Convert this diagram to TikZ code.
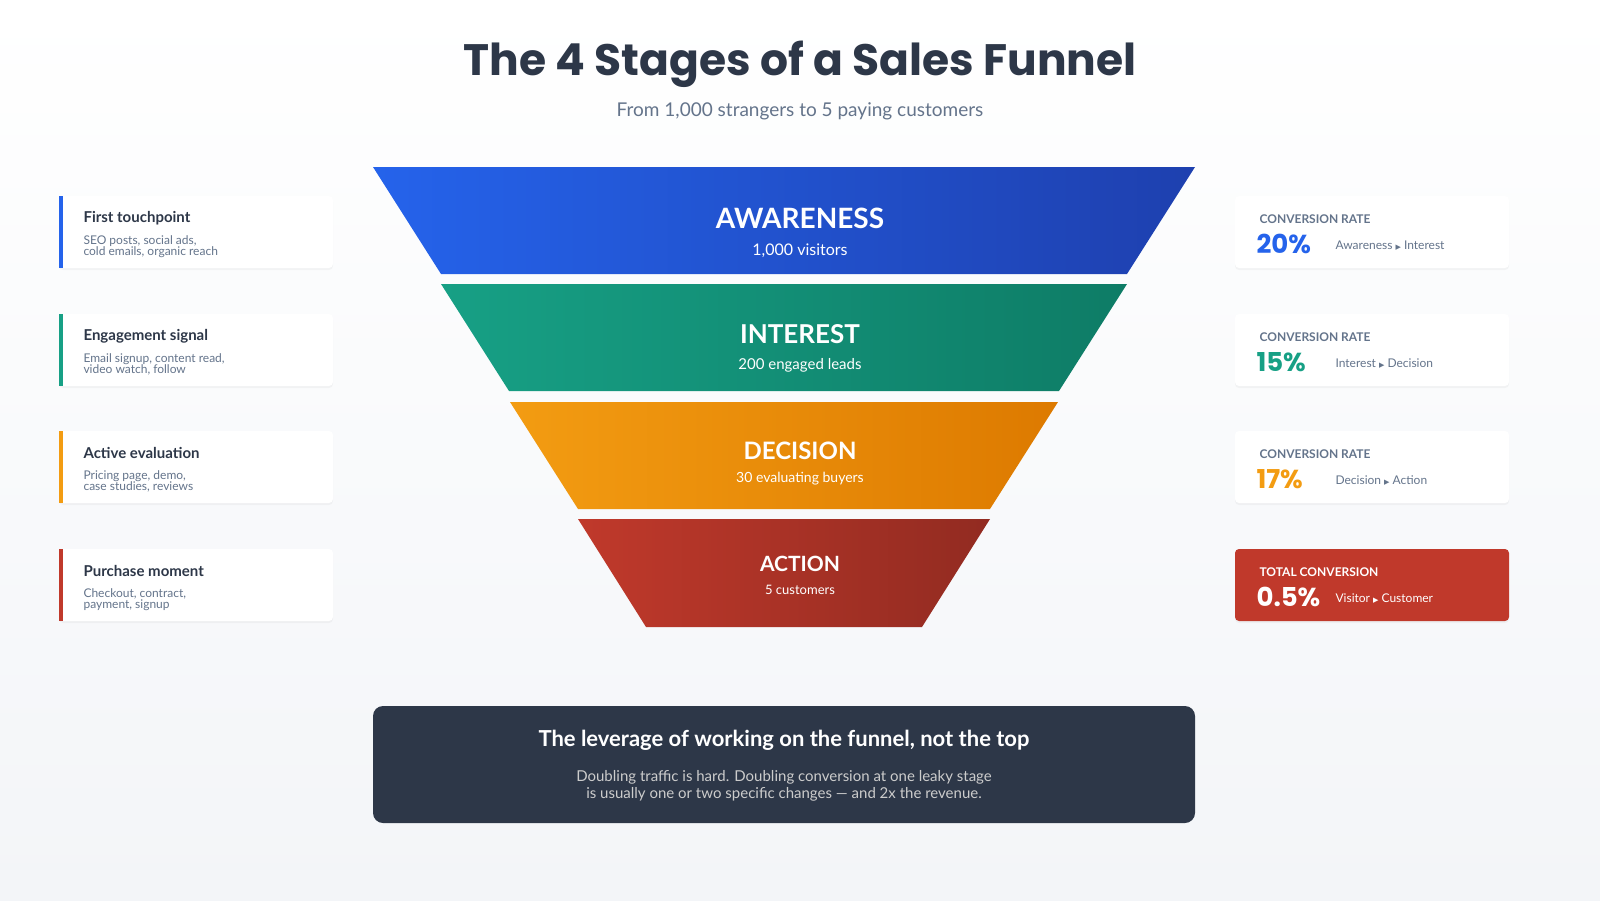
\documentclass[tikz,border=0pt]{standalone}
\usepackage{fontspec}
\setmainfont{Lato}
\newfontfamily\pop{Poppins}
\newfontfamily\djsans{DejaVu Sans}
\usetikzlibrary{shadows}
\definecolor{ink}{HTML}{2D3748}
\definecolor{muted}{HTML}{64748B}
\definecolor{bA}{HTML}{2563EB}\definecolor{bB}{HTML}{1E40AF}
\definecolor{gA}{HTML}{17A085}\definecolor{gB}{HTML}{0E7C66}
\definecolor{oA}{HTML}{F39C12}\definecolor{oB}{HTML}{DD7A00}
\definecolor{rA}{HTML}{C0392B}\definecolor{rB}{HTML}{922B21}
\definecolor{bgB}{HTML}{F3F5F8}
\newcommand{\fs}[1]{\fontsize{#1}{#1}\selectfont}
\newcommand{\tri}{{\djsans\fontsize{7}{7}\selectfont ▶}}
\tikzset{
 card/.style={fill=white,rounded corners=4pt,drop shadow={opacity=0.07,shadow xshift=0pt,shadow yshift=-2pt}},
 ctitle/.style={anchor=west,text=ink,font=\bfseries\fs{15}},
 csub/.style={anchor=north west,text=muted,font=\fs{12},align=left},
 clab/.style={anchor=west,text=muted,font=\bfseries\fs{12}},
 pct/.style={anchor=west,font=\pop\bfseries\fs{26}},
 stage/.style={text=white,font=\bfseries\fs{28}},
 cnt/.style={text=white,font=\fs{16}},
}
\begin{document}
\begin{tikzpicture}[x=1pt,y=-1pt]
\useasboundingbox (0,0) rectangle (1600,900);
\shade[top color=white,bottom color=bgB] (0,0) rectangle (1600,900);
\node[text=ink,font=\pop\bfseries\fs{44}] (title) at (800,64) {The 4 Stages of a Sales Funnel};
\node[text=muted,font=\fs{19}] (sub) at (800,111) {From 1,000 strangers to 5 paying customers};
% funnel
\shade[left color=bA,right color=bB] (373,167) -- (1195,167) -- (1127,274) -- (441,274) -- cycle;
\shade[left color=gA,right color=gB] (441,284) -- (1127,284) -- (1059,391) -- (509,391) -- cycle;
\shade[left color=oA,right color=oB] (510,402) -- (1058,402) -- (990,509) -- (578,509) -- cycle;
\shade[left color=rA,right color=rB] (578,519) -- (990,519) -- (922,627) -- (646,627) -- cycle;
\node[stage] (s1) at (800,218) {AWARENESS};
\node[cnt] (c1) at (800,251) {1,000 visitors};
\node[stage,font=\bfseries\fs{26}] (s2) at (800,334) {INTEREST};
\node[cnt,font=\fs{15}] (c2) at (800,365) {200 engaged leads};
\node[stage,font=\bfseries\fs{24}] (s3) at (800,451) {DECISION};
\node[cnt,font=\fs{14}] (c3) at (800,479) {30 evaluating buyers};
\node[stage,font=\bfseries\fs{21}] (s4) at (800,564) {ACTION};
\node[cnt,font=\fs{13}] (c4) at (800,590) {5 customers};
% left cards
\foreach \y/\c/\t/\a/\b [count=\i] in {196/bA/First touchpoint/{SEO posts, social ads,}/{cold emails, organic reach},
  314/gA/Engagement signal/{Email signup, content read,}/{video watch, follow},
  431/oA/Active evaluation/{Pricing page, demo,}/{case studies, reviews},
  549/rA/Purchase moment/{Checkout, contract,}/{payment, signup}}{
  \fill[card] (59,\y) rectangle (333,\y+72);
  \fill[\c] (59,\y) rectangle (63,\y+72);
  \node[ctitle] (lt\i) at (80,\y+22) {\t};
  \node[csub] (ls\i) at (80,\y+36) {\a\\[-1pt]\b};
}
% right cards
\foreach \y/\c/\p/\a/\b [count=\i] in {196/bA/20\%/Awareness/Interest,314/gA/15\%/Interest/Decision,431/oA/17\%/Decision/Action}{
  \fill[card] (1235,\y) rectangle (1509,\y+72);
  \node[clab] (rl\i) at (1256,\y+23) {CONVERSION RATE};
  \node[pct,text=\c] (rp\i) at (1253,\y+48) {\p};
  \node[anchor=west,text=muted,font=\fs{12}] (rt\i) at (1332,\y+50) {\a\ \tri\ \b};
}
\fill[rA,rounded corners=4pt,drop shadow={opacity=0.07,shadow xshift=0pt,shadow yshift=-2pt}] (1235,549) rectangle (1509,621);
\node[clab,text=white] (rl4) at (1256,572) {TOTAL CONVERSION};
\node[pct,text=white] (rp4) at (1253,597) {0.5\%};
\node[anchor=west,text=white,font=\fs{12}] (rt4) at (1332,599) {Visitor \tri\ Customer};
% bottom box
\fill[ink,rounded corners=10pt] (373,706) rectangle (1195,823);
\node[text=white,font=\bfseries\fs{22}] (bt) at (784,740) {The leverage of working on the funnel, not the top};
\node[text=gray!40,font=\fs{15},align=center] (bb) at (784,786) {Doubling traffic is hard. Doubling conversion at one leaky stage\\[2pt]is usually one or two specific changes --- and 2x the revenue.};
\end{tikzpicture}
\end{document}
